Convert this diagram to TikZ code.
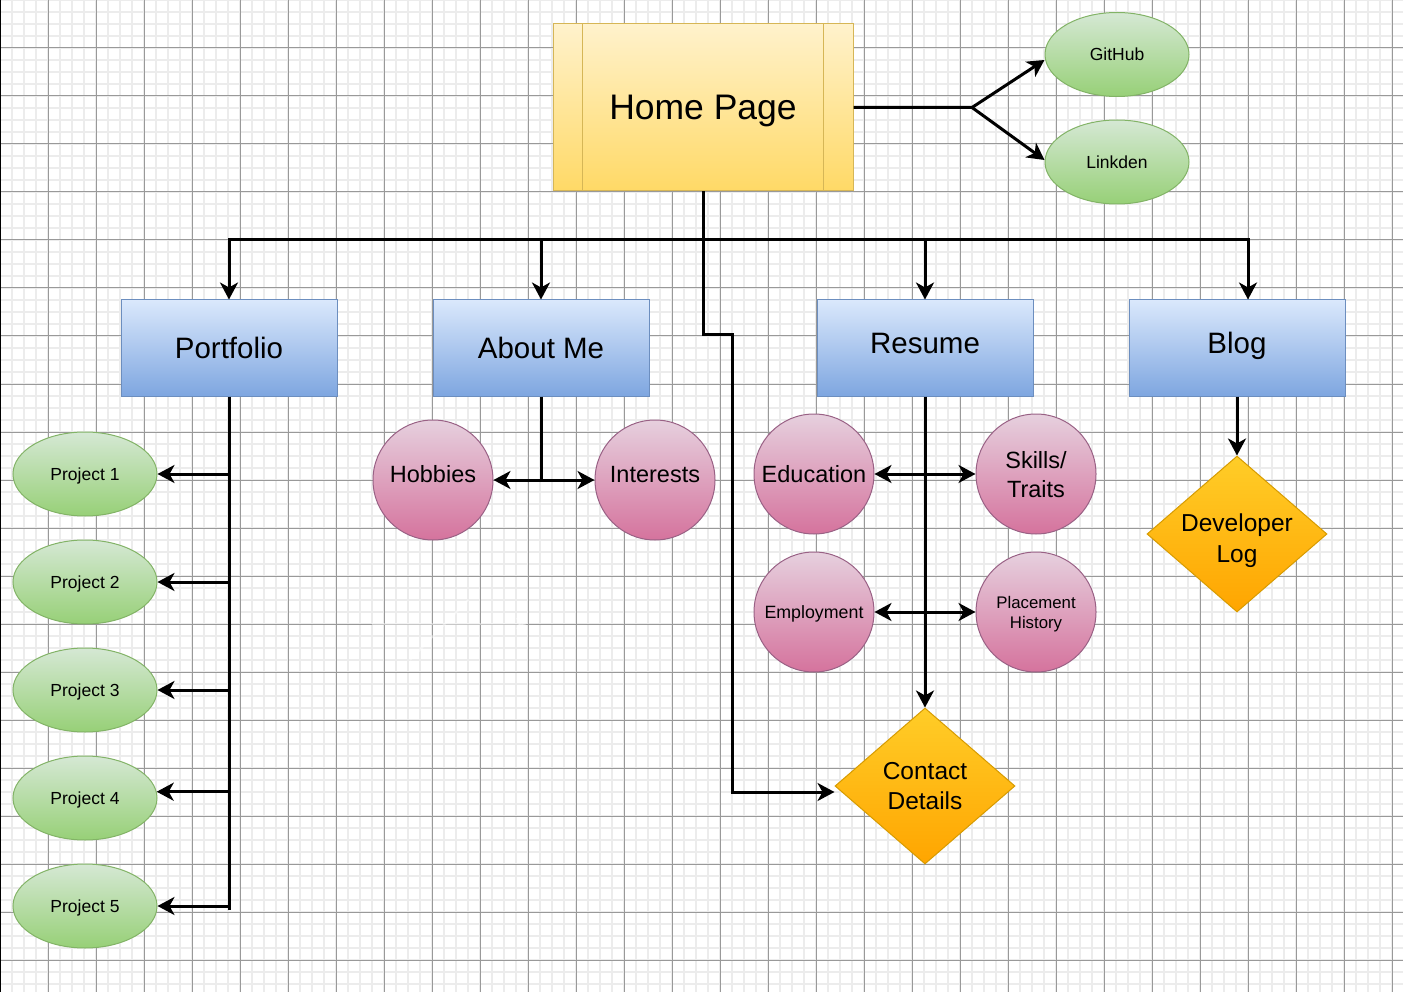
\documentclass[tikz,border=0pt]{standalone}
\usepackage{fontspec}
\setmainfont{Liberation Sans}
\usetikzlibrary{shapes.geometric,arrows.meta,positioning}

\definecolor{homeTop}{HTML}{FFF2CC}
\definecolor{homeBot}{HTML}{FFD966}
\definecolor{homeLine}{HTML}{D6B656}
\definecolor{pageTop}{HTML}{DAE8FC}
\definecolor{pageBot}{HTML}{7EA6E0}
\definecolor{pageLine}{HTML}{6C8EBF}
\definecolor{leafTop}{HTML}{D5E8D4}
\definecolor{leafBot}{HTML}{97D077}
\definecolor{leafLine}{HTML}{82B366}
\definecolor{bubbleTop}{HTML}{E6D0DE}
\definecolor{bubbleBot}{HTML}{D5739D}
\definecolor{bubbleLine}{HTML}{996185}
\definecolor{gemTop}{HTML}{FFCD28}
\definecolor{gemBot}{HTML}{FFA500}
\definecolor{gemLine}{HTML}{D79B00}
\definecolor{minorGrid}{HTML}{ECECEC}
\definecolor{majorGrid}{HTML}{999999}

\begin{document}
\begin{tikzpicture}[x=1pt, y=-1pt,
    link/.style={line width=3pt, -{Stealth[length=17pt,width=18pt,inset=5pt]}},
    bothlink/.style={line width=3pt, {Stealth[length=17pt,width=18pt,inset=5pt]}-{Stealth[length=17pt,width=18pt,inset=5pt]}},
    plainlink/.style={line width=3pt},
    ghost/.style={white, opacity=0.45, line width=2pt},
    homebox/.style={rectangle, draw=homeLine, line width=1pt, top color=homeTop, bottom color=homeBot,
        minimum width=300pt, minimum height=167pt, font=\fontsize{35.5}{42}\selectfont, text depth=0pt},
    pagebox/.style={rectangle, draw=pageLine, line width=1pt, top color=pageTop, bottom color=pageBot,
        minimum width=216pt, minimum height=96pt, font=\fontsize{29.5}{35}\selectfont, text depth=0pt},
    leaf/.style={ellipse, draw=leafLine, line width=1pt, top color=leafTop, bottom color=leafBot,
        minimum width=144pt, minimum height=84pt, inner sep=0pt, font=\fontsize{17.5}{21}\selectfont, text depth=0pt},
    bubble/.style={circle, draw=bubbleLine, line width=1pt, top color=bubbleTop, bottom color=bubbleBot,
        minimum size=120pt, inner sep=0pt, align=center, font=\fontsize{23.5}{29}\selectfont, text depth=0pt},
    gem/.style={diamond, aspect=1.154, draw=gemLine, line width=1pt, top color=gemTop, bottom color=gemBot,
        minimum width=180pt, minimum height=156pt, inner sep=0pt, align=center,
        font=\fontsize{24.5}{30.5}\selectfont, text depth=0pt}]

    \useasboundingbox (0,0) rectangle (1403,992);
    \fill[white] (0,0) rectangle (1403,992);

    % Grid
    \foreach \gx in {0,12,...,1403} \draw[minorGrid, line width=1.5pt] (\gx,0) -- (\gx,992);
    \foreach \gy in {0,12,...,992} \draw[minorGrid, line width=1.5pt] (0,\gy) -- (1403,\gy);
    \foreach \gx in {0,48,...,1403} \draw[majorGrid, line width=1pt] (\gx,0) -- (\gx,992);
    \foreach \gy in {0,48,...,992} \draw[majorGrid, line width=1pt] (0,\gy) -- (1403,\gy);
    \draw[black, line width=2pt] (0,0) -- (0,992);

    % Nodes
    \node (home) [homebox] at (703,107.5) {Home Page};
    \draw[homeLine, line width=1pt] ([xshift=30pt]home.north west) -- ([xshift=30pt]home.south west);
    \draw[homeLine, line width=1pt] ([xshift=-30pt]home.north east) -- ([xshift=-30pt]home.south east);

    \node (github) [leaf] at (1117,54.5) {GitHub};
    \node (linkden) [leaf, below of=github, node distance=107.5pt] {Linkden};

    \node (portfolio) [pagebox] at (229,348) {Portfolio};
    \node (aboutme) [pagebox, right of=portfolio, node distance=312pt] {About Me};
    \node (resume) [pagebox, text depth=10pt] at (925,348) {Resume};
    \node (blog) [pagebox, text depth=10pt, right of=resume, node distance=312pt] {Blog};

    \node (proj1) [leaf] at (85,474) {Project 1};
    \foreach \i [evaluate=\i as \j using int(\i-1)] in {2,...,5}
        \node (proj\i) [leaf, below of=proj\j, node distance=108pt] {Project \i};

    \node (hobbies) [bubble, text depth=12pt] at (433,480) {Hobbies};
    \node (interests) [bubble, text depth=12pt] at (655,480) {Interests};

    \node (education) [bubble] at (814,474) {Education};
    \node (skills) [bubble] at (1036,474) {Skills/\\Traits};
    \node (employment) [bubble, font=\fontsize{17.8}{21}\selectfont, below of=education, node distance=138pt] {Employment};
    \node (placement) [bubble, font=\fontsize{16.8}{20}\selectfont, below of=skills, node distance=138pt] {Placement\\History};

    \node (contact) [gem] at (925,786) {Contact\\Details};
    \node (devlog) [gem, font=\fontsize{24.5}{31}\selectfont, text height=56pt] at (1237,534) {Developer\\Log};

    % Arrows
    \coordinate (fork) at (972,107.5);
    \draw[link] (home) -- (fork) -- ([yshift=-5.5pt]github.west);
    \draw[link] (fork) -- ([yshift=2pt]linkden.west);

    \coordinate (bus) at (703,240);
    \draw[plainlink] (home.south) -- (bus);
    \draw[link] (bus) -| (portfolio);
    \draw[link] (bus) -| (aboutme);
    \draw[link] (bus) -| (resume);
    \draw[link] (bus) -| ([xshift=11pt]blog.north);

    \coordinate (jog) at (732,335);
    \draw[link] (bus) |- (jog) |- ([yshift=-6pt]contact.west);

    \coordinate (pspine) at (229,910);
    \draw[plainlink] (portfolio) -- (pspine);
    \foreach \i/\a in {1/0,2/0,3/0,4/5,5/0}
        \draw[link] (pspine |- proj\i.\a) -- (proj\i.\a);

    \coordinate (amjoin) at (541,480);
    \draw[plainlink] (aboutme) -- (amjoin);
    \draw[link] (amjoin) -- (hobbies);
    \draw[link] (amjoin) -- (interests);

    \draw[link] (resume) -- (contact);
    \draw[bothlink] (education) -- (skills);
    \draw[bothlink] (employment) -- (placement);

    \draw[link] (blog) -- (devlog);

    % faint leftover edge
    \coordinate (ghostA) at (372,623.5);
    \coordinate (ghostB) at (528,623.5);
    \coordinate (ghostC) at (410,660);
    \coordinate (ghostD) at (468,600);
    \draw[ghost, -{Stealth[length=12pt,width=11pt,inset=3pt]}] (ghostA) -- (ghostB);
    \draw[ghost] (ghostC) -- (ghostD);
\end{tikzpicture}
\end{document}
